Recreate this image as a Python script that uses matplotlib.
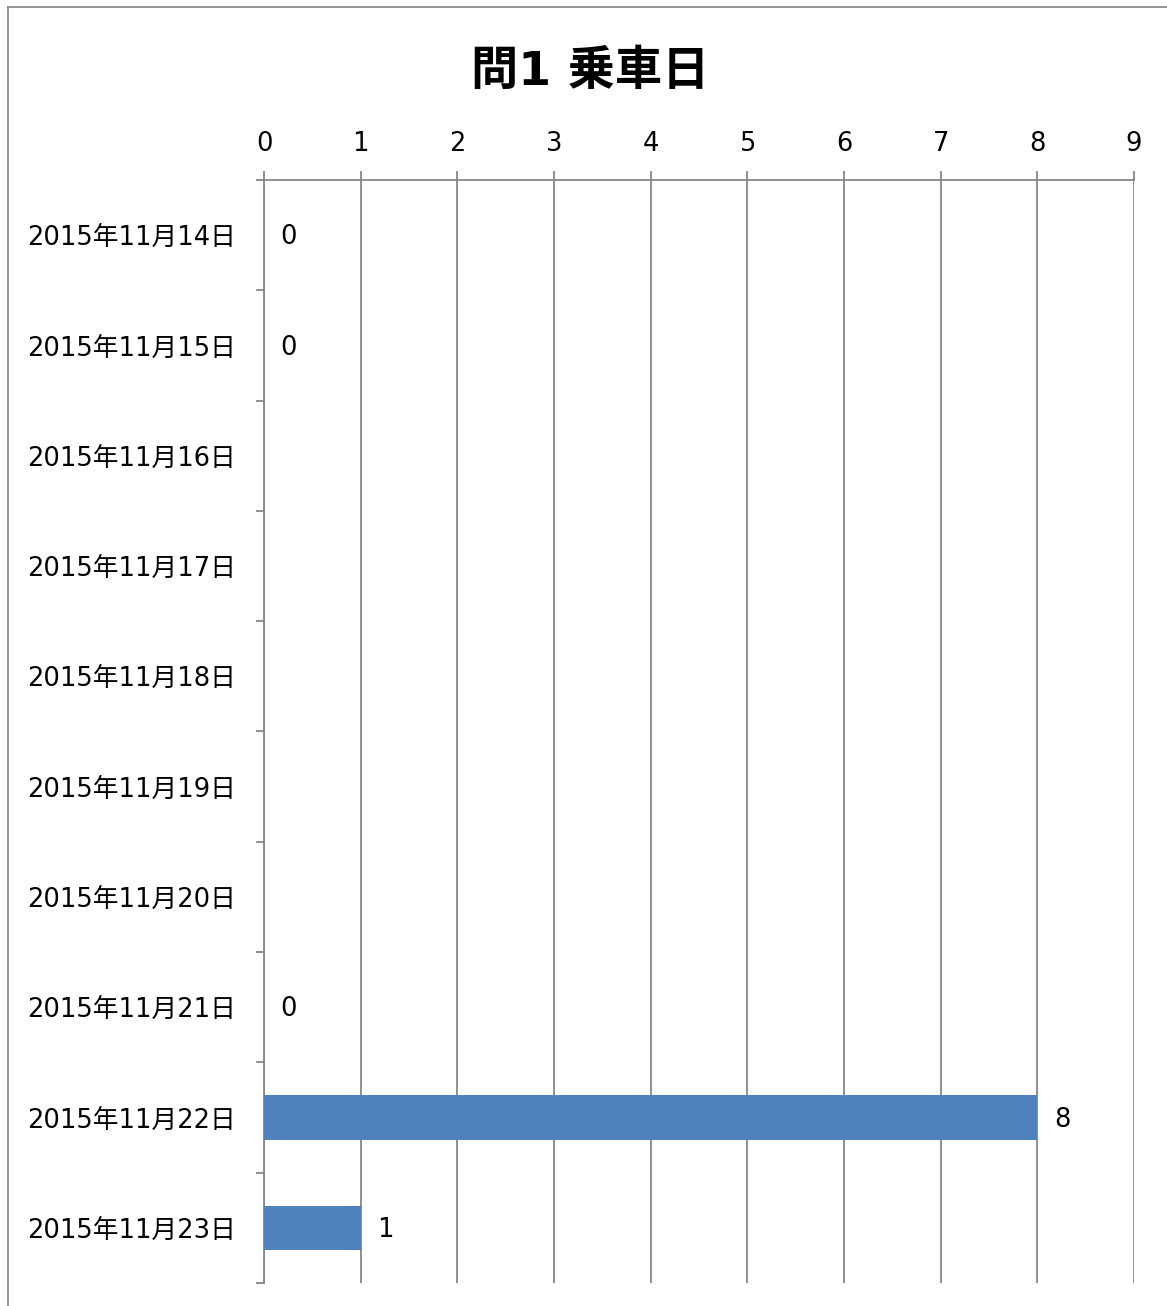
import numpy as np
import matplotlib.pyplot as plt
from matplotlib.lines import Line2D

plt.rcParams['font.family'] = ['DejaVu Sans', 'Noto Sans CJK JP']

# data (nan = no value shown)
dates = ["2015年11月14日", "2015年11月15日", "2015年11月16日", "2015年11月17日",
         "2015年11月18日", "2015年11月19日", "2015年11月20日", "2015年11月21日",
         "2015年11月22日", "2015年11月23日"]
counts = [0, 0, np.nan, np.nan, np.nan, np.nan, np.nan, 0, 8, 1]
x_ticks = list(range(0, 10))

grid_col = "#878787"
bar_col = "#4F81BD"
fs = 18.5

fig = plt.figure(figsize=(11.67, 13.06), dpi=100)
ax = fig.add_axes([264 / 1167, 1 - 1283 / 1306, (1134 - 264) / 1167, (1283 - 180) / 1306])

pos = np.arange(len(dates))
vals = np.nan_to_num(np.array(counts, dtype=float))
ax.barh(pos, vals, height=0.4, color=bar_col, zorder=3)

for p, v in zip(pos, counts):
    if np.isnan(v):
        continue
    ax.annotate(f"{int(v)}", xy=(v, p), xytext=(12, -1.5), textcoords="offset points",
                ha="left", va="center", fontsize=fs)

ax.set_xlim(0, 9)
ax.set_ylim(len(dates) - 0.5, -0.5)
ax.set_xticks(x_ticks)
ax.xaxis.tick_top()
ax.tick_params(axis="x", which="major", direction="out", length=6.5, width=1.3,
               color=grid_col, labelsize=fs, pad=10)
ax.grid(axis="x", color=grid_col, linewidth=1.3, zorder=0)

# y ticks at category boundaries, labels at centres
ax.set_yticks(np.arange(-0.5, len(dates) + 0.5, 1))
ax.set_yticklabels([])
ax.set_yticks(pos, minor=True)
ax.set_yticklabels(dates, minor=True, fontsize=fs)
ax.tick_params(axis="y", which="major", direction="out", length=6, width=1.3, color=grid_col)
ax.tick_params(axis="y", which="minor", length=0, pad=20)

for s in ["right", "bottom"]:
    ax.spines[s].set_visible(False)
for s in ["left", "top"]:
    ax.spines[s].set_color(grid_col)
    ax.spines[s].set_linewidth(1.3)

fig.text(590 / 1167, 1 - 72 / 1306, "問1 乗車日", ha="center", va="center",
         fontsize=34, fontweight="bold", family=["DejaVu Sans", "Noto Sans CJK JP"])

# outer chart border (only top and left visible)
fig.add_artist(Line2D([7.5 / 1167, 7.5 / 1167], [0, 1 - 6.5 / 1306], color="#8c8c8c", linewidth=1.3))
fig.add_artist(Line2D([7.5 / 1167, 1], [1 - 6.5 / 1306, 1 - 6.5 / 1306], color="#8c8c8c", linewidth=1.3))

fig.savefig("out.png", dpi=100)
